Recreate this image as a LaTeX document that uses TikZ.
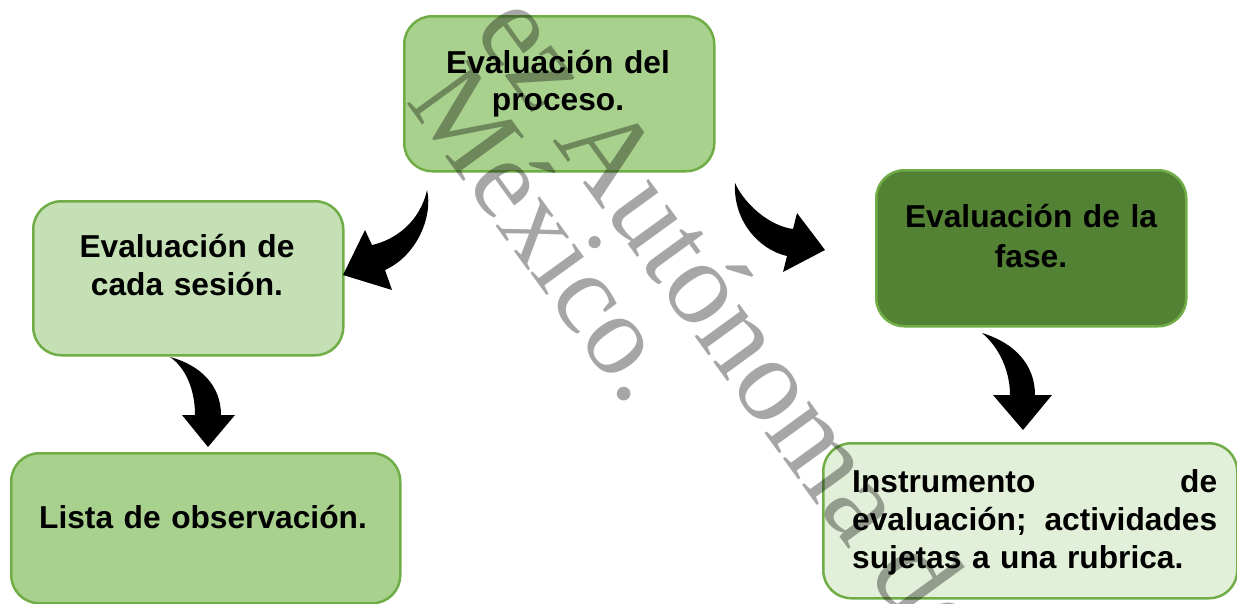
\documentclass[tikz,border=0pt]{standalone}
\usepackage{fontspec}
\setmainfont{Liberation Sans}
\newfontfamily\wmfont{Liberation Serif}
\definecolor{gborder}{HTML}{70AD47}
\definecolor{gmid}{HTML}{A9D18E}
\definecolor{glight}{HTML}{C5E0B4}
\definecolor{gdark}{HTML}{548235}
\definecolor{gpale}{HTML}{E2F0D9}
\begin{document}
\begin{tikzpicture}[x=1pt,y=1pt,
  box/.style={draw=gborder, line width=2.5pt, rounded corners=28pt, anchor=north west, inner sep=0pt},
  lbl/.style={inner sep=0pt, anchor=base, align=center, text width=#1},
  f37/.style={font=\bfseries\fontsize{31.7}{37.3}\selectfont},
  f38/.style={font=\bfseries\fontsize{31.7}{38.2}\selectfont},
  f40/.style={font=\bfseries\fontsize{31.7}{40}\selectfont},
  blockarrow/.style={fill=black, draw=none},
  wm/.style={text=black, opacity=0.35, inner sep=0pt, rotate=-54, anchor=base west}
]
\useasboundingbox (0,0) rectangle (1237,-603);

% boxes
\node[box, fill=gmid, minimum width=310pt, minimum height=155pt] (proc) at (403,-15) {};
\node[box, fill=glight, minimum width=310pt, minimum height=154pt] (ses) at (32,-200) {};
\node[box, fill=gmid, minimum width=389pt, minimum height=150pt] (lista) at (10,-452) {};
\node[box, fill=gdark, minimum width=310pt, minimum height=156pt] (fase) at (875,-169) {};
\node[box, fill=gpale, minimum width=414pt, minimum height=155pt] (inst) at (822,-442) {};

% labels
\node[lbl=300pt, f37] (proct) at (558,-73) {Evaluación del\\proceso.};
\node[lbl=300pt, f38] (sest) at (187,-257) {Evaluación de\\cada sesión.};
\node[lbl=380pt, f38] (listat) at (203,-528) {Lista de observación.};
\node[lbl=300pt, f40] (faset) at (1031,-227) {Evaluación de la\\fase.};
\node[lbl=365pt, f38, align=left, anchor=base west] (instt) at (852,-492)
  {\makebox[365pt][l]{Instrumento\hfill de}\\\makebox[365pt][l]{evaluación;\hfill actividades}\\sujetas a una rubrica.};

% curved block arrows
\fill[blockarrow] (427,-190) .. controls (433,-215) and (418,-255) .. (385,-270)
  -- (392,-290) -- (343,-275) -- (365,-230) -- (372,-245)
  .. controls (395,-240) and (420,-222) .. cycle;
\fill[blockarrow] (735,-183) .. controls (745,-205) and (770,-226) .. (793,-229)
  -- (797,-213) -- (825,-250) -- (783,-272) -- (787,-256)
  .. controls (760,-250) and (733,-222) .. cycle;
\fill[blockarrow] (170,-357) .. controls (200,-365) and (221,-385) .. (221,-415)
  -- (235,-415) -- (208,-447) -- (182,-415) -- (195,-415)
  .. controls (195,-390) and (186,-368) .. cycle;
\fill[blockarrow] (982,-333) .. controls (1015,-343) and (1035,-365) .. (1035,-395)
  -- (1052,-395) -- (1023,-430) -- (993,-395) -- (1010,-395)
  .. controls (1010,-372) and (1000,-348) .. cycle;

% watermark
\node[wm, font=\wmfont\fontsize{120}{120}\selectfont] (wm1) at (472,-30) {ez Autónoma de};
\node[wm, font=\wmfont\fontsize{115}{115}\selectfont] (wm2) at (405,-101) {México.};
\end{tikzpicture}
\end{document}
